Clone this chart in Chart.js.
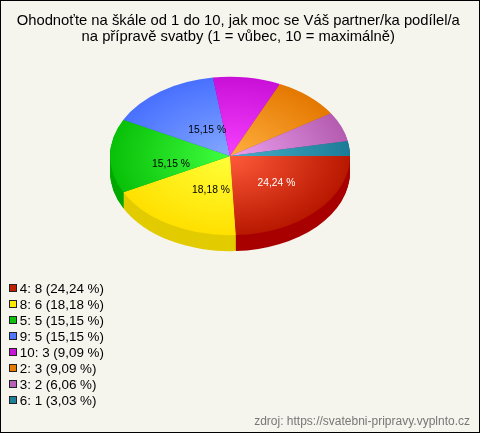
<!DOCTYPE html>
<html><head><meta charset="utf-8">
<style>html,body{margin:0;padding:0;background:#f5f4ed}canvas{display:block}</style>
<script src="https://cdn.jsdelivr.net/npm/chart.js@4"></script></head>
<body><canvas id="c" width="480" height="433"></canvas>
<script>
const categories = ['4','8','5','9','10','2','3','6'];
const values = [8,6,5,5,3,3,2,1];
const percents = ['24,24','18,18','15,15','15,15','9,09','9,09','6,06','3,03'];
const legendColors = ['#c02000','#ffe800','#10c010','#4d78ff','#c814d8','#e87c00','#b860b8','#20809c'];
const innerColors = ['#ff5a3a','#ffff38','#40ff40','#84a8ff','#f840ff','#ffb040','#eca0f0','#48b0c8'];
const outerColors = ['#b81800','#ffe000','#08c008','#4870ff','#c810d8','#e47800','#b45cb0','#1c7c98'];
const sideColors = ['#a80000','#e2cc00','#00a800','#3050c0','#9000a0','#b05800','#804880','#105868'];
const labelColors = ['#ffffff','#000000','#000000','#000000'];
const labelShift = [[3,0],[11,0],[1,8],[12,6]];
const titleLines = ['Ohodnoťte na škále od 1 do 10, jak moc se Váš partner/ka podílel/a','na přípravě svatby (1 = vůbec, 10 = maximálně)'];
const sourceText = 'zdroj: https://svatebni-pripravy.vyplnto.cz';

const squash = 0.66, depth = 16, pieTop = 36, pieBottom = 276;
const canvas = document.getElementById('c');
const g = canvas.getContext('2d');
const cxPie = 230, cyPie = 156, rPie = 120;
const fills = innerColors.map((c,i)=>{
  const gr = g.createRadialGradient(cxPie,cyPie,0,cxPie,cyPie,rPie);
  gr.addColorStop(0,c); gr.addColorStop(1,outerColors[i]);
  return gr;
});

const piePlugin = {
  id:'pie3d',
  beforeDraw(chart){
    const c = chart.ctx; c.save(); c.fillStyle='#f5f4ed'; c.fillRect(0,0,480,433); c.restore();
  },
  afterLayout(chart){
    const a = chart.chartArea;
    a.top = pieTop; a.bottom = pieBottom; a.height = pieBottom-pieTop;
    a.left = cxPie-rPie; a.right = cxPie+rPie; a.width = 2*rPie;
  },
  beforeDatasetDraw(chart){
    const c = chart.ctx, arcs = chart.getDatasetMeta(0).data;
    c.save();
    c.translate(0,cyPie); c.scale(1,squash); c.translate(0,-cyPie);
    for(let d=depth;d>=1;d--){
      arcs.forEach((el,i)=>{
        c.beginPath();
        c.moveTo(el.x,el.y+d/squash);
        c.arc(el.x,el.y+d/squash,el.outerRadius,el.startAngle,el.endAngle);
        c.closePath();
        c.fillStyle = sideColors[i];
        c.fill();
      });
    }
  },
  afterDatasetDraw(chart){
    const c = chart.ctx, arcs = chart.getDatasetMeta(0).data;
    c.restore();
    c.save();
    c.font = '10.3px "Liberation Sans"'; c.textAlign='center'; c.textBaseline='middle';
    labelColors.forEach((col,i)=>{
      const el = arcs[i], mid=(el.startAngle+el.endAngle)/2, r=el.outerRadius*0.5;
      c.fillStyle = col;
      c.fillText(percents[i]+' %', el.x+r*Math.cos(mid)+labelShift[i][0], el.y+r*squash*Math.sin(mid)+labelShift[i][1]);
    });
    c.restore();
  },
  afterDraw(chart){
    const c = chart.ctx; c.save();
    const boxes = chart.legend.legendHitBoxes;
    c.strokeStyle='#222'; c.lineWidth=1;
    boxes.forEach((hb,i)=>{
      const x = Math.round(hb.left), y = Math.round(chart.legend.bottom - 3 - (boxes.length-i)*16 + 4);
      c.fillStyle = legendColors[i];
      c.fillRect(x+0.5,y+0.5,7,7); c.strokeRect(x+0.5,y+0.5,7,7);
    });
    c.strokeStyle='#000'; c.strokeRect(0.5,0.5,479,432); c.restore();
  }
};

new Chart(canvas,{
  type:'pie',
  data:{labels:categories,datasets:[{data:values,backgroundColor:fills,borderWidth:0,hoverOffset:0,clip:false}]},
  plugins:[piePlugin],
  options:{
    responsive:false,animation:false,rotation:90,
    events:[],
    layout:{padding:{left:6.5,right:10,top:13,bottom:4}},
    plugins:{
      tooltip:{enabled:false},
      title:{display:true,text:titleLines,color:'#000',align:'center',padding:0,
        font:{family:'"Liberation Sans"',size:14.8,weight:'normal',lineHeight:1.07}},
      subtitle:{display:true,text:sourceText,color:'#777777',align:'end',position:'bottom',padding:{top:4,bottom:0},
        font:{family:'"Liberation Sans"',size:12,weight:'normal'}},
      legend:{display:true,position:'left',align:'end',fullSize:false,
        labels:{boxWidth:4,boxHeight:7,padding:2.6,color:'#000',
          font:{family:'"Liberation Sans"',size:13.4,lineHeight:1.17},
          generateLabels(){
            return categories.map((cat,i)=>({
              text:cat+': '+values[i]+' ('+percents[i]+' %)',
              fillStyle:'rgba(0,0,0,0)',strokeStyle:'rgba(0,0,0,0)',lineWidth:0,index:i,hidden:false
            }));
          }}}
    }
  }
});
</script></body></html>
